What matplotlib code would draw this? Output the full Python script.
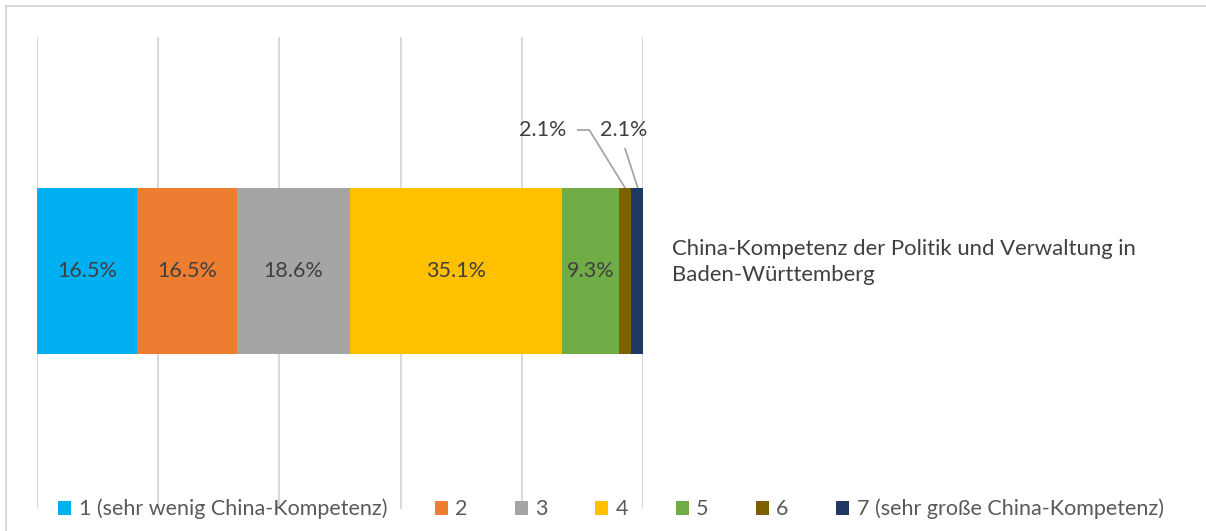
import numpy as np
import matplotlib.pyplot as plt
from matplotlib.lines import Line2D
from matplotlib.patches import Patch

plt.rcParams['font.family'] = ['Lato', 'DejaVu Sans']

# 数据
category = 'China-Kompetenz der Politik und Verwaltung in\nBaden-Württemberg'
levels = ['1 (sehr wenig China-Kompetenz)', '2', '3', '4', '5', '6',
          '7 (sehr große China-Kompetenz)']
shares = [16.5, 16.5, 18.6, 35.1, 9.3, 2.1, 2.1]
colors = ['#00B0F0', '#ED7D31', '#A5A5A5', '#FFC000', '#70AD47', '#7F6000', '#1F3864']
xticks = [0, 20, 40, 60, 80, 100]

W, H = 1206, 531
fig = plt.figure(figsize=(W / 100, H / 100), dpi=100)

# 坐标轴区域 (像素换算)
left, right, top, bottom = 37, 643, 37, 509
ax = fig.add_axes([left / W, 1 - bottom / H, (right - left) / W, (bottom - top) / H])
ax.set_xlim(0, 100)
ax.set_ylim(-0.5, 0.5)
for s in ax.spines.values():
    s.set_visible(False)
ax.set_xticks([])
ax.set_yticks([])
for x in xticks:
    ax.axvline(x, color='#D9D9D9', lw=1.5, zorder=0)

bar_h = 166 / (bottom - top)
bar_y = 0.5 - (271 - top) / (bottom - top)
cum = np.concatenate([[0], np.cumsum(shares)[:-1]])
ax.barh([bar_y] * len(shares), shares, left=cum, height=bar_h, color=colors, zorder=2)

# 段内标签
txt_color = '#404040'
fs = 15.5
for c, v in zip(cum, shares):
    if v > 5:
        ax.text(c + v / 2, bar_y, f'{v:.1f}%', ha='center', va='center',
                fontsize=fs, color=txt_color, zorder=3)

# 小段标签 + 引线
bar_top = bar_y + bar_h / 2
lbl_y = 0.5 - (130 - top) / (bottom - top)
mid6 = cum[5] + shares[5] / 2
mid7 = cum[6] + shares[6] / 2
ax.text(mid6 - 13.6, lbl_y, f'{shares[5]:.1f}%', ha='center', va='center',
        fontsize=fs, color=txt_color)
ax.text(mid7 - 2.3, lbl_y, f'{shares[6]:.1f}%', ha='center', va='center',
        fontsize=fs, color=txt_color)
ax.plot([mid6 - 7.8, mid6 - 5.9, mid6], [lbl_y, lbl_y, bar_top],
        color='#A6A6A6', lw=1.3, zorder=1)
ax.plot([mid7 - 2.1, mid7], [lbl_y - 0.04, bar_top],
        color='#A6A6A6', lw=1.3, zorder=1)

# 类别标签（右侧）
fig.text(672 / W, 1 - 262 / H, category, ha='left', va='center',
         fontsize=15.9, color=txt_color, linespacing=1.4)

# 图例
handles = [Patch(facecolor=c, edgecolor='none') for c in colors]
leg = fig.legend(handles, levels, loc='center', ncol=7,
                 bbox_to_anchor=(611 / W, 1 - 509 / H), frameon=False,
                 fontsize=15.5, handlelength=0.6, handleheight=0.6,
                 handletextpad=0.35, columnspacing=2.2, labelcolor='#595959')

# 外框
fig.add_artist(Line2D([6 / W, 6 / W], [0, 1 - 6 / H], transform=fig.transFigure,
                      color='#D9D9D9', lw=1.5))
fig.add_artist(Line2D([6 / W, 1], [1 - 6 / H, 1 - 6 / H], transform=fig.transFigure,
                      color='#D9D9D9', lw=1.5))

fig.savefig('out.png', dpi=100, facecolor='white')
